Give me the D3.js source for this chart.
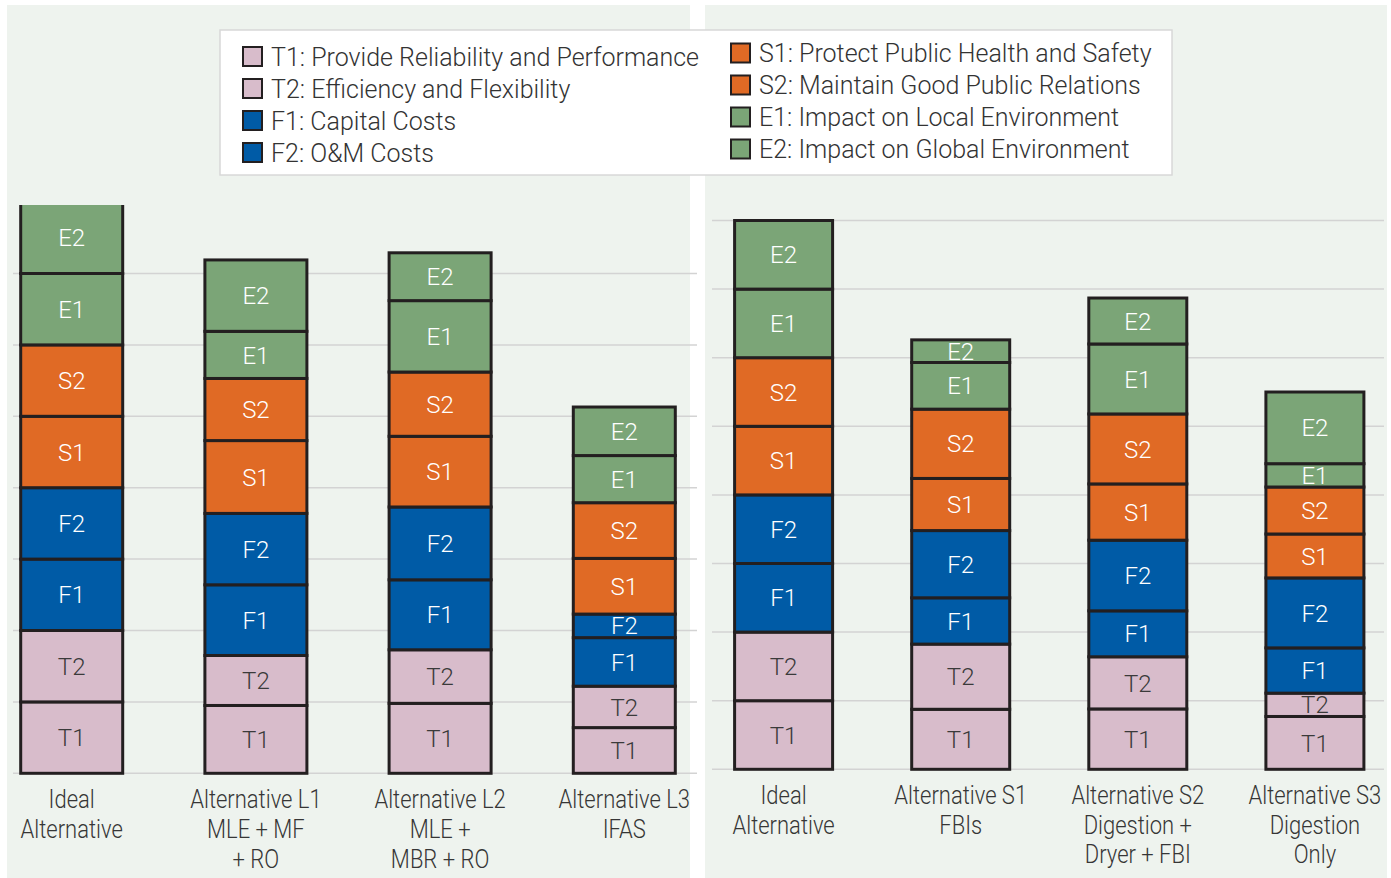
<!DOCTYPE html>
<html><head><meta charset="utf-8">
<script src="https://cdn.jsdelivr.net/npm/d3@7"></script>
<style>
html,body{margin:0;padding:0;background:#fff;}
svg{display:block;}
</style></head>
<body>
<svg id="chart" width="1391" height="878"></svg>
<script>
// ---- data ----
const criteria = ["T1","T2","F1","F2","S1","S2","E1","E2"];
const legendLeft = ["T1: Provide Reliability and Performance","T2: Efficiency and Flexibility","F1: Capital Costs","F2: O&M Costs"];
const legendRight = ["S1: Protect Public Health and Safety","S2: Maintain Good Public Relations","E1: Impact on Local Environment","E2: Impact on Global Environment"];
const colorsByCriterion = ["#d8bccb","#d8bccb","#005ba6","#005ba6","#e06a25","#e06a25","#7ba577","#7ba577"];

const leftCategories = ["Ideal","L1","L2","L3"];
const leftLabels = [["Ideal","Alternative"],["Alternative L1","MLE + MF","+ RO"],["Alternative L2","MLE +","MBR + RO"],["Alternative L3","IFAS"]];
const leftIdeal = [1,1,1,1,1,1,1,1];
const leftL1 = [0.95,0.70,0.99,1.00,1.02,0.87,0.66,1.00];
const leftL2 = [0.98,0.75,0.98,1.02,0.99,0.90,1.00,0.67];
const leftL3 = [0.64,0.58,0.68,0.33,0.78,0.78,0.66,0.68];

const rightCategories = ["Ideal","S1","S2","S3"];
const rightLabels = [["Ideal","Alternative"],["Alternative S1","FBIs"],["Alternative S2","Digestion +","Dryer + FBI"],["Alternative S3","Digestion","Only"]];
const rightIdeal = [1,1,1,1,1,1,1,1];
const rightS1 = [0.875,0.95,0.675,0.98,0.76,1.01,0.68,0.33];
const rightS2 = [0.88,0.76,0.67,1.03,0.82,1.02,1.02,0.67];
const rightS3 = [0.77,0.34,0.66,1.02,0.64,0.685,0.34,1.045];
const gridTicks = [0,1,2,3,4,5,6,7,8];

// ---- drawing ----
const svg = d3.select("#chart");
const color = d3.scaleOrdinal().domain(criteria).range(colorsByCriterion);
const textColor = c => (c==="T1"||c==="T2") ? "#3a3a3a" : "#ffffff";
const condense = 0.83;

function panel(cfg){
  const g = svg.append("g");
  g.append("rect").attr("x",cfg.bg[0]).attr("y",5).attr("width",cfg.bg[1]-cfg.bg[0]).attr("height",873).attr("fill","#eef3ee");
  const y = d3.scaleLinear().domain([0,8]).range(cfg.yRange);
  const x = d3.scalePoint().domain(cfg.cats).range(cfg.xRange);
  g.append("g").selectAll("line").data(gridTicks.filter(t=>y(t)>=cfg.clipTop-1)).join("line")
    .attr("x1",cfg.grid[0]).attr("x2",cfg.grid[1])
    .attr("y1",d=>y(d)).attr("y2",d=>y(d))
    .attr("stroke","#d3d3d3").attr("stroke-width",1.5);
  const rows = cfg.cats.map((c,i)=>{const o={cat:c}; criteria.forEach((k,j)=>o[k]=cfg.series[i][j]); return o;});
  const stacked = d3.stack().keys(criteria)(rows);
  const clipId = "clip"+cfg.id;
  svg.append("clipPath").attr("id",clipId).append("rect")
    .attr("x",cfg.bg[0]).attr("y",cfg.clipTop).attr("width",cfg.bg[1]-cfg.bg[0]).attr("height",800);
  const bars = g.append("g").attr("clip-path",`url(#${clipId})`);
  const bw = cfg.bw;
  stacked.forEach(layer=>{
    const key = layer.key;
    const lg = bars.append("g");
    lg.selectAll("rect").data(layer).join("rect")
      .attr("x",d=>x(d.data.cat)-bw/2).attr("width",bw)
      .attr("y",d=>y(d[1])).attr("height",d=>y(d[0])-y(d[1]))
      .attr("fill",color(key)).attr("stroke","#231f20").attr("stroke-width",3);
    lg.selectAll("text").data(layer).join("text")
      .attr("x",d=>x(d.data.cat)).attr("y",d=>(y(d[0])+y(d[1]))/2)
      .attr("dy","0.36em").attr("text-anchor","middle")
      .attr("font-family","Roboto, 'Noto Sans', sans-serif").attr("font-weight",300)
      .attr("font-size",24).attr("fill",textColor(key)).text(key);
  });
  const lab = g.append("g");
  cfg.cats.forEach((c,i)=>{
    const cx = x(c);
    const t = lab.append("text").attr("text-anchor","middle")
      .attr("transform",`translate(${cx},0) scale(${condense},1)`)
      .attr("font-family","Roboto, 'Noto Sans', sans-serif").attr("font-weight",300)
      .attr("font-size",26.5).attr("fill","#363636");
    cfg.labels[i].forEach((line,k)=>{
      t.append("tspan").attr("x",0).attr("y",cfg.labelY + k*cfg.labelStep).text(line);
    });
  });
}

panel({id:"L",bg:[7,690],yRange:[773.3,202.1],xRange:[71.7,624.3],grid:[13,697],cats:leftCategories,
  series:[leftIdeal,leftL1,leftL2,leftL3],labels:leftLabels,bw:102,clipTop:205,labelY:808,labelStep:30});
panel({id:"R",bg:[705,1387],yRange:[769.3,220.5],xRange:[783.6,1314.9],grid:[712,1384],cats:rightCategories,
  series:[rightIdeal,rightS1,rightS2,rightS3],labels:rightLabels,bw:98,clipTop:0,labelY:804.5,labelStep:29.5});

// legend
const leg = svg.append("g");
leg.append("rect").attr("x",220).attr("y",30).attr("width",952).attr("height",145)
  .attr("fill","#ffffff").attr("stroke","#d8d8d8").attr("stroke-width",1.5);
function legendCol(items, keys, sx, tx, y0){
  items.forEach((txt,i)=>{
    const yy = y0 + i*32;
    leg.append("rect").attr("x",sx).attr("y",yy).attr("width",19).attr("height",19)
      .attr("fill",color(keys[i])).attr("stroke","#231f20").attr("stroke-width",2);
    leg.append("text").attr("x",tx).attr("y",yy+9.5).attr("dy","0.36em")
      .attr("font-family","Roboto, 'Noto Sans', sans-serif").attr("font-weight",300)
      .attr("font-size",25).attr("fill","#333333").text(txt);
  });
}
legendCol(legendLeft, criteria.slice(0,4), 243, 271, 47);
legendCol(legendRight, criteria.slice(4), 731, 759, 43.5);
</script>
</body></html>
